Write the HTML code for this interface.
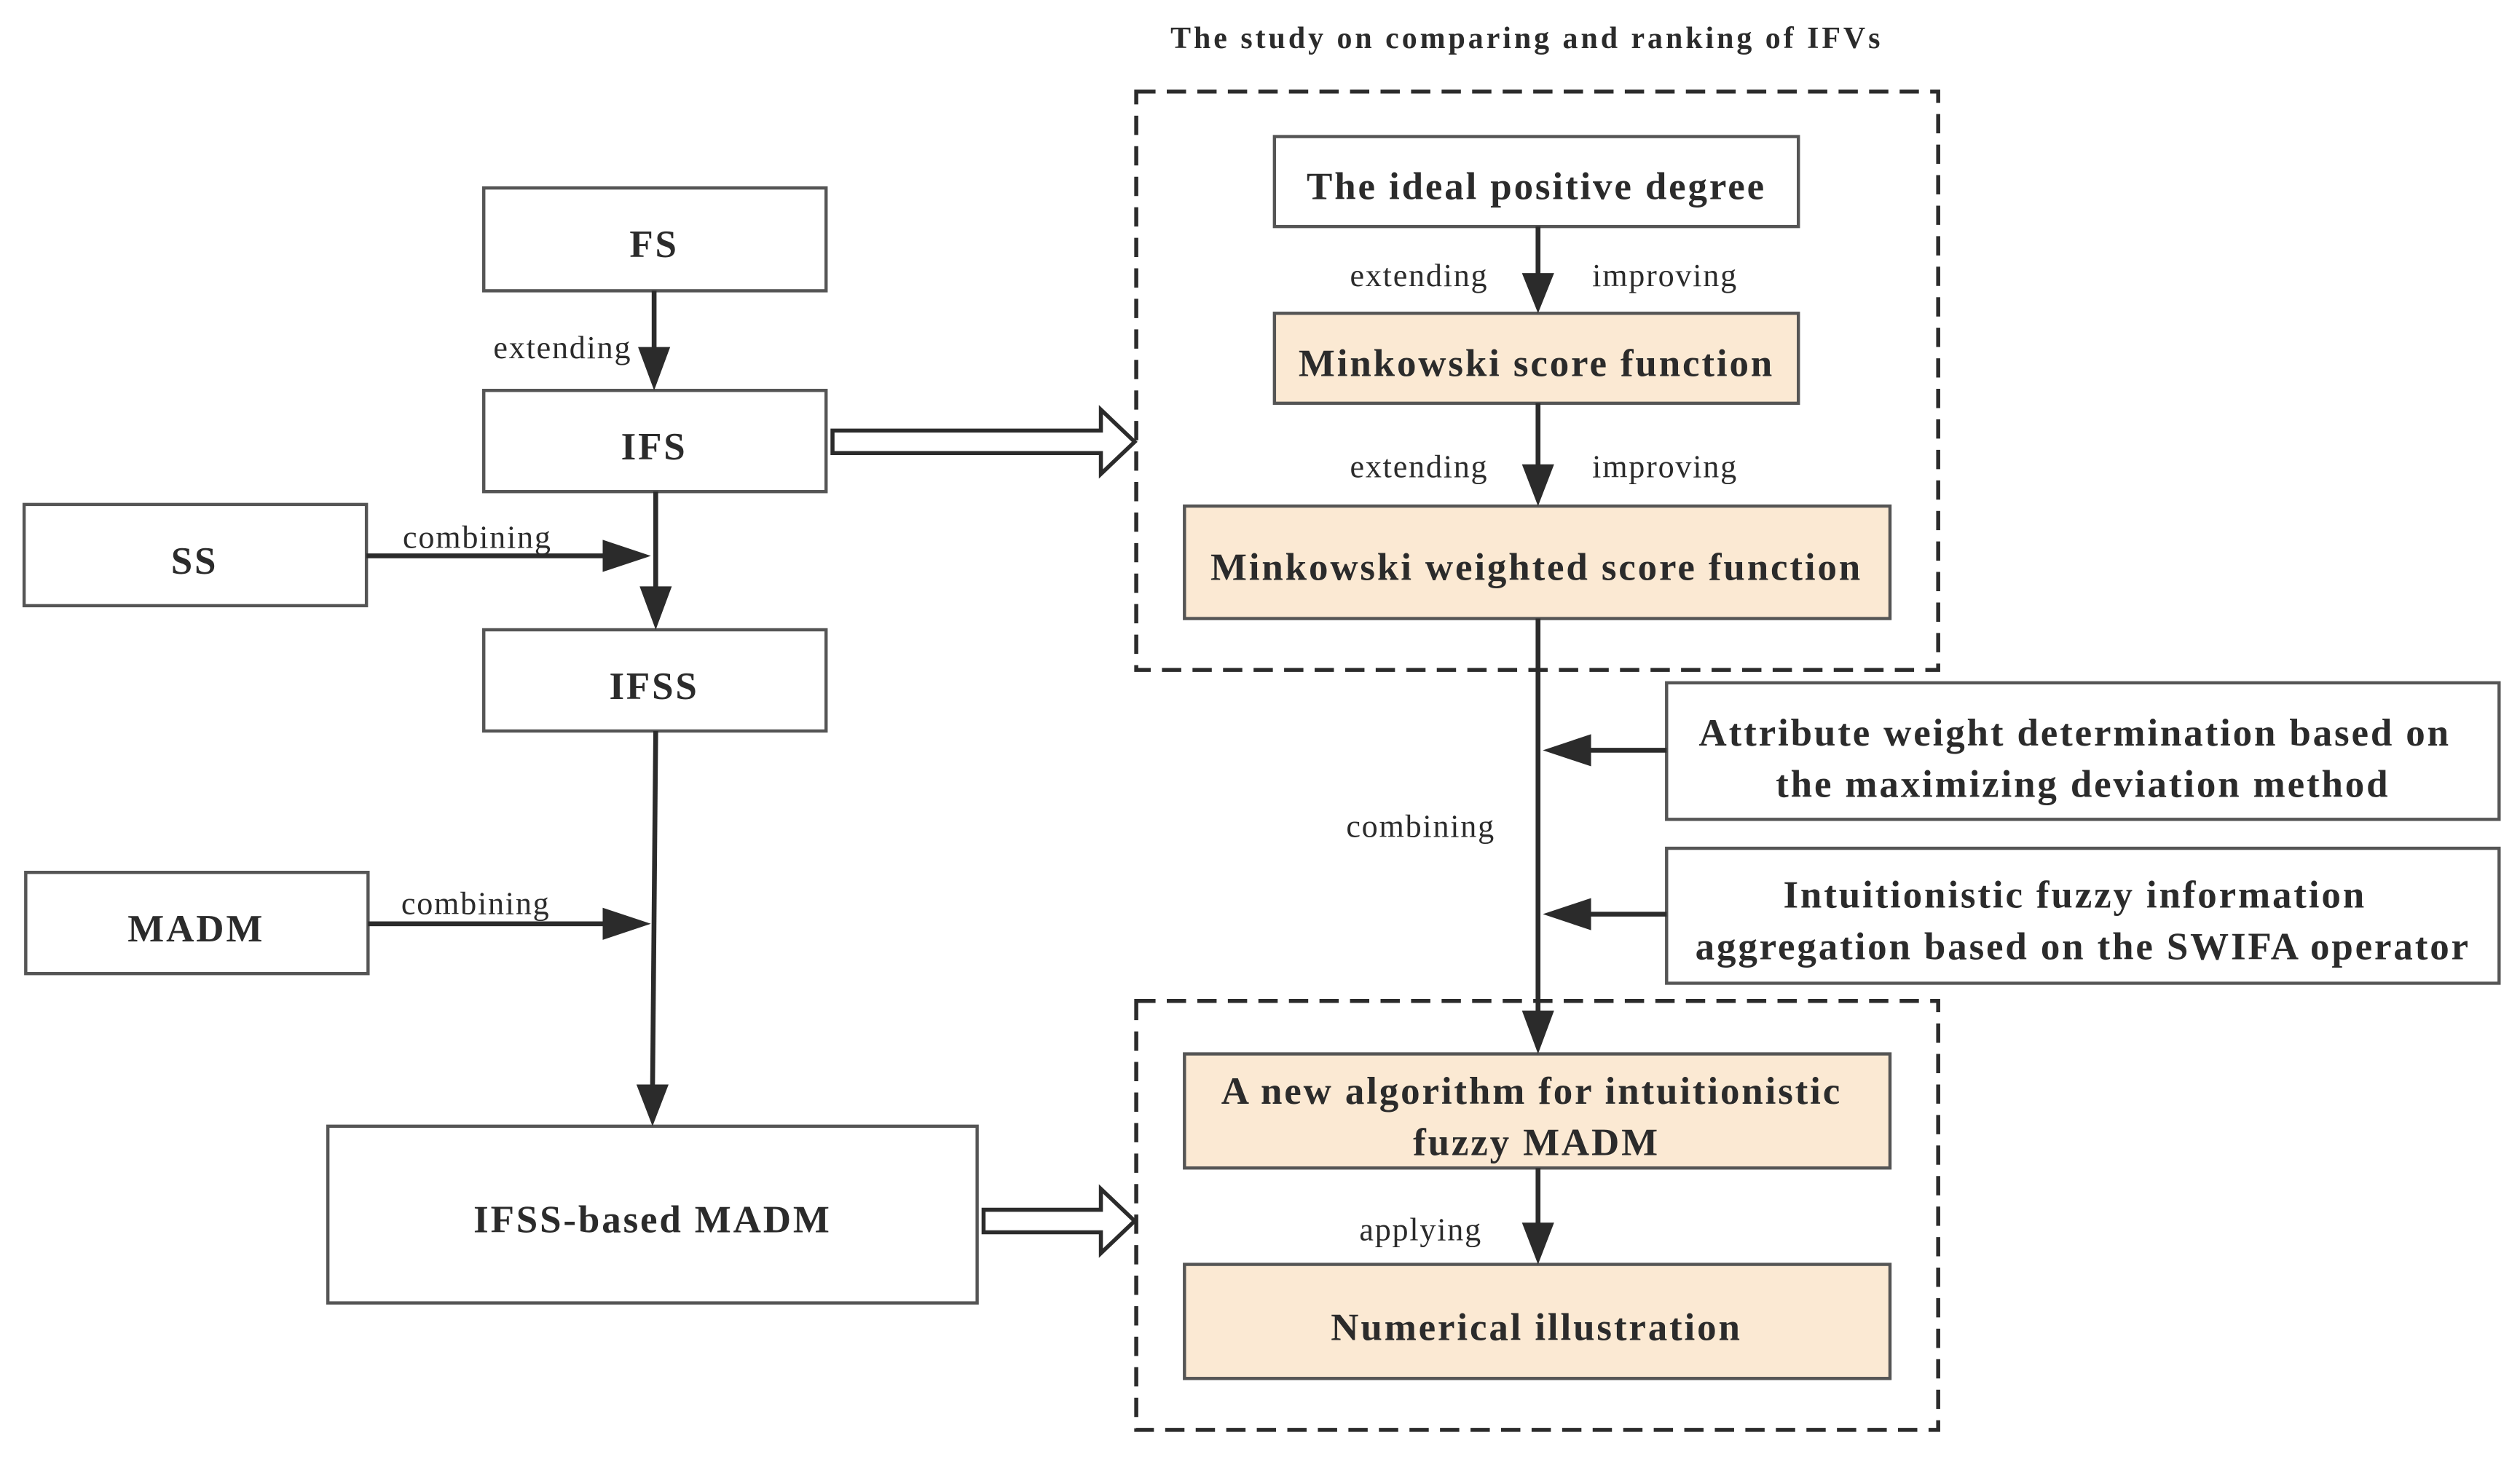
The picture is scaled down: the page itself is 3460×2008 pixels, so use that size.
<!DOCTYPE html>
<html><head><meta charset="utf-8"><style>html,body{margin:0;padding:0;background:#fff}svg{display:block}</style></head>
<body>
<svg width="3460" height="2008" viewBox="0 0 1568 910" xmlns="http://www.w3.org/2000/svg" font-family="'Liberation Serif', serif">
<rect width="1568" height="910" fill="#fff"/>
<g fill="#2b2b2b" font-weight="bold" font-size="19" text-anchor="middle" letter-spacing="1.8">
<text x="950" y="30">The study on comparing and ranking of IFVs</text>
</g>
<g fill="none" stroke="#2b2b2b" stroke-width="2.5" stroke-dasharray="12,7">
<rect x="707" y="57" width="499" height="360"/>
<rect x="707" y="623" width="499" height="267"/>
</g>
<g stroke="#555" stroke-width="2">
<rect x="793" y="85" width="326" height="56" fill="#fff"/>
<rect x="793" y="195" width="326" height="56" fill="#fbe9d3"/>
<rect x="737" y="315" width="439" height="70" fill="#fbe9d3"/>
<rect x="301" y="117" width="213" height="64" fill="#fff"/>
<rect x="301" y="243" width="213" height="63" fill="#fff"/>
<rect x="301" y="392" width="213" height="63" fill="#fff"/>
<rect x="15" y="314" width="213" height="63" fill="#fff"/>
<rect x="16" y="543" width="213" height="63" fill="#fff"/>
<rect x="204" y="701" width="404" height="110" fill="#fff"/>
<rect x="1037" y="425" width="518" height="85" fill="#fff"/>
<rect x="1037" y="528" width="518" height="84" fill="#fff"/>
<rect x="737" y="656" width="439" height="71" fill="#fbe9d3"/>
<rect x="737" y="787" width="439" height="71" fill="#fbe9d3"/>
</g>
<g stroke="#2b2b2b" stroke-width="3" fill="none">
<line x1="957" y1="141" x2="957" y2="175"/>
<line x1="957" y1="251" x2="957" y2="295"/>
<line x1="957" y1="385" x2="957" y2="630"/>
<line x1="957" y1="727" x2="957" y2="765"/>
<line x1="407" y1="181" x2="407" y2="222"/>
<line x1="408" y1="306" x2="408" y2="370"/>
<line x1="228" y1="346" x2="380" y2="346"/>
<line x1="408" y1="455" x2="406" y2="680"/>
<line x1="229" y1="575" x2="380" y2="575"/>
<line x1="1037" y1="467" x2="985" y2="467"/>
<line x1="1037" y1="569" x2="985" y2="569"/>
</g>
<g fill="#2b2b2b">
<polygon points="947,170 967,170 957,195"/>
<polygon points="947,289 967,289 957,315"/>
<polygon points="947,629 967,629 957,656"/>
<polygon points="947,761 967,761 957,787"/>
<polygon points="397,216 417,216 407,243"/>
<polygon points="398,365 418,365 408,392"/>
<polygon points="396,675 416,675 406,701"/>
<polygon points="375,336 375,356 405,346"/>
<polygon points="375,565 375,585 405,575"/>
<polygon points="990,457 990,477 960,467"/>
<polygon points="990,559 990,579 960,569"/>
</g>
<g fill="#fff" stroke="#2b2b2b" stroke-width="2.5">
<polygon points="518,268 685,268 685,255 706,275 685,295 685,282 518,282"/>
<polygon points="612,753 685,753 685,740 706,760 685,780 685,767 612,767"/>
</g>
<g fill="#2b2b2b" font-weight="bold" font-size="24" text-anchor="middle" letter-spacing="1.3">
<text x="956" y="124">The ideal positive degree</text>
<text x="956" y="234">Minkowski score function</text>
<text x="956" y="361">Minkowski weighted score function</text>
<text x="407" y="160">FS</text>
<text x="407" y="286">IFS</text>
<text x="407" y="435">IFSS</text>
<text x="121" y="357">SS</text>
<text x="122" y="586">MADM</text>
<text x="406" y="767">IFSS-based MADM</text>
<text x="1291" y="464">Attribute weight determination based on</text>
<text x="1296" y="496">the maximizing deviation method</text>
<text x="1291" y="565">Intuitionistic fuzzy information</text>
<text x="1296" y="597">aggregation based on the SWIFA operator</text>
<text x="953" y="687">A new algorithm for intuitionistic</text>
<text x="956" y="719">fuzzy MADM</text>
<text x="956" y="834">Numerical illustration</text>
</g>
<g fill="#2b2b2b" font-size="20" text-anchor="middle" letter-spacing="0.8">
<text x="883" y="178">extending</text>
<text x="1036" y="178">improving</text>
<text x="883" y="297">extending</text>
<text x="1036" y="297">improving</text>
<text x="884" y="521">combining</text>
<text x="884" y="772">applying</text>
<text x="350" y="223">extending</text>
<text x="297" y="341">combining</text>
<text x="296" y="569">combining</text>
</g>
</svg>
</body></html>
